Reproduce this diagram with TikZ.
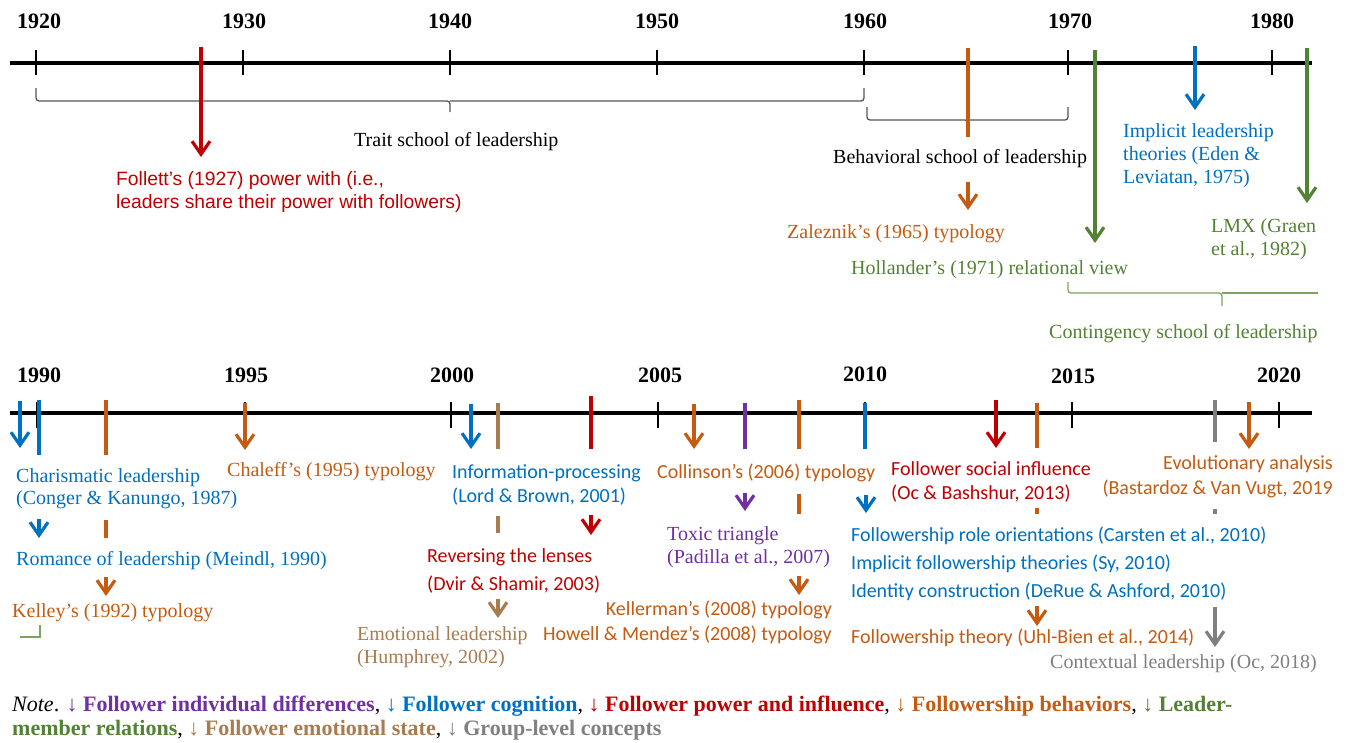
\documentclass[tikz,border=0pt]{standalone}
\usepackage{fontspec}
\setmainfont{Liberation Serif}
\newfontfamily\calfont{Carlito}
\newfontfamily\arifont{Liberation Sans}
\usetikzlibrary{arrows.meta}
\definecolor{cred}{HTML}{C00000}
\definecolor{corange}{HTML}{C55A11}
\definecolor{cgreen}{HTML}{548235}
\definecolor{cblue}{HTML}{0070C0}
\definecolor{cpurple}{HTML}{7030A0}
\definecolor{cbrown}{HTML}{A97C50}
\definecolor{cgray}{HTML}{808080}
\definecolor{clgreen}{HTML}{7DA35E}
\definecolor{cbrace}{HTML}{555555}
\tikzset{
  axisline/.style={line width=4pt},
  tickline/.style={line width=1.8pt},
  tl/.style={line width=3.2pt},
  arr/.style={tl,-{Straight Barb[length=13pt,width=18pt]}},
  bracepath/.style={line width=1.3pt, cbrace, rounded corners=3pt},
  ser/.style={font=\fontsize{20}{24}\selectfont, inner sep=0pt},
  cal/.style={font=\fontsize{20}{24}\calfont, inner sep=0pt},
  ari/.style={font=\fontsize{19.3}{23}\arifont, inner sep=0pt},
  yr/.style={font=\fontsize{22}{26}\selectfont\bfseries, inner sep=0pt, anchor=base},
  notefont/.style={font=\fontsize{22}{26}\selectfont, inner sep=0pt, anchor=base west},
}
\begin{document}
\begin{tikzpicture}[x=1pt,y=-1pt]
\fill[white] (0,0) rectangle (1348,742);
\useasboundingbox (0,0) rectangle (1348,742);

% ===== Top timeline =====
\draw[axisline] (10,63) -- (1312,63);
\foreach \x in {36,243,450,657,864,1068,1272} \draw[tickline] (\x,50) -- (\x,75);
\node[yr] (y1920) at (39,28) {1920};
\node[yr] (y1930) at (244,28) {1930};
\node[yr] (y1940) at (450,28) {1940};
\node[yr] (y1950) at (657,28) {1950};
\node[yr] (y1960) at (865,28) {1960};
\node[yr] (y1970) at (1070,28) {1970};
\node[yr] (y1980) at (1272,28) {1980};

% braces
\draw[bracepath] (36,88) -- (36,101) -- (450,101) -- (450,112);
\draw[bracepath] (450,101) -- (864,101) -- (864,88);
\draw[bracepath] (867,107) -- (867,120) -- (968,120) -- (968,128);
\draw[bracepath] (968,120) -- (1068,120) -- (1068,107);
\draw[bracepath, clgreen] (1068,282) -- (1068,293) -- (1222,293) -- (1222,306);
\draw[line width=1.3pt, clgreen, rounded corners=3pt] (1222,293) -- (1318,293);

\node[ser, anchor=base west] (trait) at (354,146) {Trait school of leadership};
\node[ser, anchor=base west] (behav) at (833,163) {Behavioral school of leadership};
\node[ser, anchor=base west, cgreen] (conting) at (1049,338) {Contingency school of leadership};

% Follett
\draw[arr, cred] (201,47) -- (201,157);
\node[ari, anchor=base west, cred] (fol1) at (116,185) {Follett’s (1927) power with (i.e.,};
\node[ari, anchor=base west, cred] (fol2) at (116,208) {leaders share their power with followers)};

% Zaleznik
\draw[tl, corange] (968,48) -- (968,137);
\draw[arr, corange] (968,182) -- (968,210);
\node[ser, anchor=base west, corange] (zal) at (787,238) {Zaleznik’s (1965) typology};

% Hollander
\draw[arr, cgreen] (1095,50) -- (1095,243);
\node[ser, anchor=base west, cgreen] (hol) at (851,274) {Hollander’s (1971) relational view};

% Implicit leadership
\draw[arr, cblue] (1195,46) -- (1195,110);
\node[ser, anchor=base west, cblue] (imp1) at (1123,137) {Implicit leadership};
\node[ser, anchor=base west, cblue] (imp2) at (1123,160) {theories (Eden \&};
\node[ser, anchor=base west, cblue] (imp3) at (1123,183) {Leviatan, 1975)};

% LMX
\draw[arr, cgreen] (1307,48) -- (1307,203);
\node[ser, anchor=base west, cgreen] (lmx1) at (1211,232) {LMX (Graen};
\node[ser, anchor=base west, cgreen] (lmx2) at (1211,255) {et al., 1982)};

% ===== Bottom timeline =====
\draw[axisline] (10,413) -- (1312,413);
\foreach \x in {37,245,451,658,865,1072,1279} \draw[tickline] (\x,402) -- (\x,428);
\node[yr] (y1990) at (39,382) {1990};
\node[yr] (y1995) at (246,382) {1995};
\node[yr] (y2000) at (452,382) {2000};
\node[yr] (y2005) at (660,382) {2005};
\node[yr] (y2010) at (865,381) {2010};
\node[yr] (y2015) at (1073,383) {2015};
\node[yr] (y2020) at (1279,382) {2020};

% Charismatic / Romance
\draw[arr, cblue] (20,401) -- (20,448);
\draw[tl, cblue] (39,400) -- (39,455);
\node[ser, anchor=base west, cblue] (cha1) at (16,482) {Charismatic leadership};
\node[ser, anchor=base west, cblue] (cha2) at (16,504) {(Conger \& Kanungo, 1987)};
\draw[arr, cblue] (39,519) -- (39,538);
\node[ser, anchor=base west, cblue] (rom) at (16,565) {Romance of leadership (Meindl, 1990)};

% Kelley
\draw[tl, corange] (106,400) -- (106,455);
\draw[tl, corange] (106,520) -- (106,538);
\draw[arr, corange] (106,577) -- (106,596);
\node[ser, anchor=base west, corange] (kel) at (12,617) {Kelley’s (1992) typology};
\draw[line width=1.3pt, clgreen] (40,625) -- (40,637) -- (20,637);

% Chaleff
\draw[arr, corange] (245,403) -- (245,450);
\node[ser, anchor=base west, corange] (chal) at (227,476) {Chaleff’s (1995) typology};

% Information processing
\draw[arr, cblue] (471,404) -- (471,449);
\node[cal, anchor=base west, cblue] (inf1) at (452,478) {Information-processing};
\node[cal, anchor=base west, cblue] (inf2) at (452,502) {(Lord \& Brown, 2001)};

% Emotional leadership
\draw[tl, cbrown] (498,403) -- (498,449);
\draw[tl, cbrown] (498,516) -- (498,533);
\draw[arr, cbrown] (498,599) -- (498,618);
\node[ser, anchor=base west, cbrown] (emo1) at (357,640) {Emotional leadership};
\node[ser, anchor=base west, cbrown] (emo2) at (357,663) {(Humphrey, 2002)};

% Reversing the lenses
\draw[tl, cred] (591,396) -- (591,449);
\draw[arr, cred] (591,515) -- (591,535);
\node[cal, anchor=base west, cred] (rev1) at (427,562) {Reversing the lenses};
\node[cal, anchor=base west, cred] (rev2) at (427,590) {(Dvir \& Shamir, 2003)};

% Collinson
\draw[arr, corange] (694,404) -- (694,449);
\node[cal, anchor=base west, corange] (col) at (657,478) {Collinson’s (2006) typology};

% Toxic triangle
\draw[tl, cpurple] (745,403) -- (745,449);
\draw[arr, cpurple] (745,493) -- (745,511);
\node[ser, anchor=base west, cpurple] (tox1) at (667,540) {Toxic triangle};
\node[ser, anchor=base west, cpurple] (tox2) at (667,563) {(Padilla et al., 2007)};

% Kellerman / Howell
\draw[tl, corange] (799,400) -- (799,449);
\draw[tl, corange] (799,494) -- (799,514);
\draw[arr, corange] (799,576) -- (799,595);
\node[cal, anchor=base east, corange] (kell) at (832,615) {Kellerman’s (2008) typology};
\node[cal, anchor=base east, corange] (how) at (832,640) {Howell \& Mendez’s (2008) typology};

% 2010 cluster
\draw[tl, cblue] (865,403) -- (865,449);
\draw[arr, cblue] (866,495) -- (866,513);
\node[cal, anchor=base west, cblue] (fro) at (851,541) {Followership role orientations (Carsten et al., 2010)};
\node[cal, anchor=base west, cblue] (ift) at (851,569) {Implicit followership theories (Sy, 2010)};
\node[cal, anchor=base west, cblue] (idc) at (851,597) {Identity construction (DeRue \& Ashford, 2010)};

% Follower social influence
\draw[arr, cred] (996,400) -- (996,448);
\node[cal, anchor=base west, cred] (fsi1) at (891,475) {Follower social influence};
\node[cal, anchor=base west, cred] (fsi2) at (891,499) {(Oc \& Bashshur, 2013)};

% Followership theory
\draw[tl, corange] (1037,403) -- (1037,448);
\draw[tl, corange] (1037,508) -- (1037,514);
\draw[arr, corange] (1037,606) -- (1037,626);
\node[cal, anchor=base west, corange] (ft) at (851,643) {Followership theory (Uhl-Bien et al., 2014)};

% Contextual leadership
\draw[tl, cgray] (1215,400) -- (1215,442);
\draw[tl, cgray] (1215,509) -- (1215,514);
\draw[arr, cgray] (1215,607) -- (1215,647);
\node[ser, anchor=base west, cgray] (ctx) at (1050,668) {Contextual leadership (Oc, 2018)};

% Evolutionary analysis
\draw[arr, corange] (1249,402) -- (1249,449);
\node[cal, anchor=base east, corange] (evo1) at (1333,469) {Evolutionary analysis};
\node[cal, anchor=base east, corange] (evo2) at (1333,494) {(Bastardoz \& Van Vugt, 2019};

% ===== Note =====
\node[notefont] (note1) at (12,711) {\textit{Note}. \textbf{\color{cpurple}↓ Follower individual differences}, \textbf{\color{cblue}↓ Follower cognition}, \textbf{\color{cred}↓ Follower power and influence}, \textbf{\color{corange}↓ Followership behaviors}, \textbf{\color{cgreen}↓ Leader-}};
\node[notefont] (note2) at (12,735) {\textbf{\color{cgreen}member relations}, \textbf{\color{cbrown}↓ Follower emotional state}, \textbf{\color{cgray}↓ Group-level concepts}};
\end{tikzpicture}
\end{document}
